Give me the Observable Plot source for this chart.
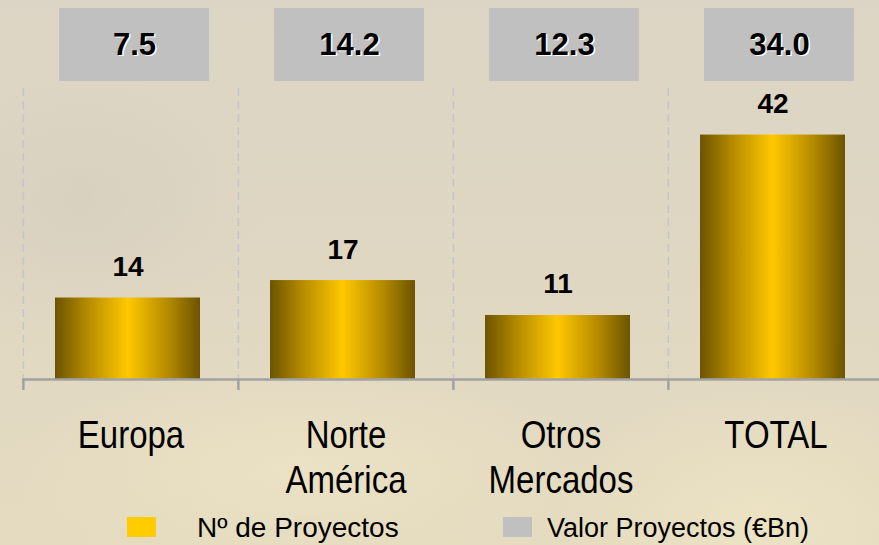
<!DOCTYPE html>
<html>
<head>
<meta charset="utf-8">
<script src="https://cdn.jsdelivr.net/npm/d3@7"></script>
<script src="https://cdn.jsdelivr.net/npm/@observablehq/plot@0.6"></script>
<style>
html, body { margin: 0; padding: 0; }
body {
  width: 879px; height: 545px; overflow: hidden; position: relative;
  font-family: "Liberation Sans", Arial, sans-serif;
  background:
    radial-gradient(ellipse 420px 160px at 300px 470px, rgba(236,226,196,0.9), rgba(236,226,196,0) 70%),
    radial-gradient(ellipse 300px 200px at 760px 520px, rgba(238,228,196,0.8), rgba(238,228,196,0) 70%),
    radial-gradient(ellipse 260px 180px at 80px 200px, rgba(214,206,190,0.7), rgba(214,206,190,0) 70%),
    linear-gradient(180deg, #dcd5c5 0%, #dfd7c2 50%, #e4dbc0 100%);
}
#top, #main { display: block; line-height: 0; }
.sw { position: absolute; width: 29px; height: 20px; top: 517px; }
.lt { position: absolute; line-height: 1; color: #000; white-space: nowrap; }
</style>
</head>
<body>
<div id="top"></div>
<div id="main"></div>
<div id="legend"></div>
<script>
// ---- data ----
const regions = ["Europa", "Norte\nAmérica", "Otros\nMercados", "TOTAL"];
const proyectos = [14, 17, 11, 42];
const valor = [7.5, 14.2, 12.3, 34.0];
const legendLabels = ["Nº de Proyectos", "Valor Proyectos (€Bn)"];
const legendColors = ["#ffcc00", "#c0c0c0"];

const data = regions.map((r, i) => ({region: r, proyectos: proyectos[i], valor: valor[i]}));

const W = 879, mL = 22, mR = -4;
const step = (W - mL - mR) / regions.length;
const font = '"Liberation Sans", Arial, sans-serif';
const xOpts = {domain: regions, padding: 0, axis: null};

// ---- top row of value boxes ----
const topPlot = Plot.plot({
  width: W, height: 88,
  marginLeft: mL, marginRight: mR, marginTop: 8, marginBottom: 7,
  style: {background: "transparent", fontFamily: font, overflow: "visible"},
  x: xOpts,
  y: {axis: null, domain: ["v"], padding: 0},
  marks: [
    Plot.cell(data, {x: "region", y: () => "v", fill: "#c0c0c0", insetLeft: 36, insetRight: 29}),
    Plot.text(data, {x: "region", y: () => "v", text: d => d.valor.toFixed(1), fill: "white",
      dx: 5, dy: 1.5, fontSize: 31, fontWeight: "bold"}),
    Plot.text(data, {x: "region", y: () => "v", text: d => d.valor.toFixed(1), fill: "black",
      dx: 3.5, fontSize: 31, fontWeight: "bold"})
  ]
});
document.getElementById("top").appendChild(topPlot);

// ---- main bar chart ----
const main = Plot.plot({
  width: W, height: 412,
  marginLeft: mL, marginRight: mR, marginTop: 0, marginBottom: 121,
  style: {background: "transparent", fontFamily: font, overflow: "visible"},
  x: xOpts,
  y: {domain: [0, 50], axis: null},
  marks: [
    Plot.ruleX(regions, {x: d => d, dx: -step / 2, stroke: "#c4c4ca", strokeWidth: 1.5, strokeDasharray: "8,5"}),
    Plot.barY(data, {x: "region", y: "proyectos", fill: "url(#gold)", insetLeft: 32, insetRight: 38}),
    Plot.ruleY([0], {stroke: "#a2a2a2", strokeWidth: 2.5}),
    Plot.ruleX(regions, {x: d => d, dx: -step / 2, y1: 0, y2: 0, insetBottom: -11, stroke: "#a2a2a2", strokeWidth: 2.5}),
    Plot.text(data, {x: "region", y: "proyectos", text: d => String(d.proyectos), dx: -3, dy: -22,
      lineAnchor: "bottom", fontSize: 28, fontWeight: "bold", fill: "black"}),
    Plot.text(data, {x: "region", text: "region", frameAnchor: "bottom", lineAnchor: "top", dy: 37,
      fontSize: 33, lineHeight: 1.186, fill: "black"})
  ]
});

// gradient for the bars
const defs = d3.select(main).insert("defs", ":first-child");
const lg = defs.append("linearGradient").attr("id", "gold")
  .attr("x1", 0).attr("x2", 1).attr("y1", 0).attr("y2", 0);
[[0, "#6c5400"], [0.22, "#b48a00"], [0.5, "#ffc800"], [0.78, "#b48a00"], [1, "#6c5400"]]
  .forEach(([o, c]) => lg.append("stop").attr("offset", o).attr("stop-color", c));

// slightly stretched category labels
d3.select(main).selectAll('g[aria-label="text"]').each(function () {
  const g = d3.select(this);
  if (g.attr("font-size") === "33") {
    g.selectAll("text").each(function () {
      const t = d3.select(this);
      t.attr("transform", (t.attr("transform") || "") + " scale(1,1.15)");
    });
  }
});
document.getElementById("main").appendChild(main);

// ---- legend ----
const leg = document.getElementById("legend");
const swX = [127, 503], txX = [197, 547], txSize = [28, 27];
legendLabels.forEach((lab, i) => {
  const s = document.createElement("div");
  s.className = "sw"; s.style.left = swX[i] + "px"; s.style.background = legendColors[i];
  leg.appendChild(s);
  const t = document.createElement("div");
  t.className = "lt"; t.textContent = lab;
  t.style.left = txX[i] + "px"; t.style.fontSize = txSize[i] + "px";
  t.style.top = (538 - Math.round(txSize[i] * 0.85)) + "px";
  leg.appendChild(t);
});
</script>
</body>
</html>
